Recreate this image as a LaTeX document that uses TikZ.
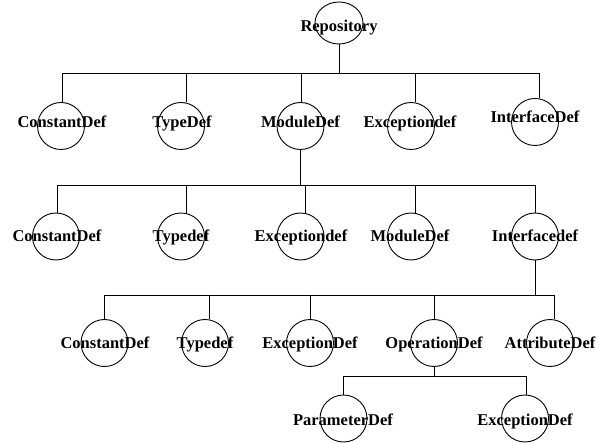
\documentclass[tikz,border=0pt]{standalone}
\usepackage{fontspec}
\setmainfont{Liberation Serif}
\usetikzlibrary{shapes.geometric}
\begin{document}
\begin{tikzpicture}[x=1pt,y=-1pt,
  ring/.style={draw,circle,minimum size=47,inner sep=0,line width=0.9},
  oval/.style={draw,ellipse,minimum width=48,minimum height=42,inner sep=0,line width=0.9},
  lbl/.style={font=\fontsize{16.5}{18}\selectfont\bfseries,inner sep=0,anchor=base},
  conn/.style={line width=0.9}]
\useasboundingbox (0,0) rectangle (599,443);

% level 0
\node[oval] (rep) at (339,23) {};
\node[lbl] (trep) at (339,32) {Repository};

% level 1
\node[ring] (a1) at (61,126) {};
\node[ring] (a2) at (181,126) {};
\node[ring] (a3) at (300.5,126) {};
\node[ring] (a4) at (411,126) {};
\node[ring] (a5) at (535,122) {};
\node[lbl] (ta1) at (62,128) {ConstantDef};
\node[lbl] (ta2) at (182,128) {TypeDef};
\node[lbl] (ta3) at (300.5,128) {ModuleDef};
\node[lbl] (ta4) at (410,128) {Exceptiondef};
\node[lbl] (ta5) at (535,123) {InterfaceDef};

% level 2
\node[ring] (b1) at (56,236.5) {};
\node[ring] (b2) at (181,236.5) {};
\node[ring] (b3) at (300.5,236.5) {};
\node[ring] (b4) at (411,236.5) {};
\node[ring] (b5) at (535,236.5) {};
\node[lbl] (tb1) at (57,242) {ConstantDef};
\node[lbl] (tb2) at (181,242) {Typedef};
\node[lbl] (tb3) at (301,242) {Exceptiondef};
\node[lbl] (tb4) at (410,242) {ModuleDef};
\node[lbl] (tb5) at (535,242) {Interfacedef};

% level 3
\node[ring] (c1) at (104.5,343) {};
\node[ring] (c2) at (205,343) {};
\node[ring] (c3) at (310,343) {};
\node[ring] (c4) at (434,343) {};
\node[ring] (c5) at (550,343) {};
\node[lbl] (tc1) at (105,348) {ConstantDef};
\node[lbl] (tc2) at (205,348) {Typedef};
\node[lbl] (tc3) at (310,348) {ExceptionDef};
\node[lbl] (tc4) at (434,348) {OperationDef};
\node[lbl] (tc5) at (550,348) {AttributeDef};

% level 4
\node[ring] (d1) at (343.5,418.5) {};
\node[ring] (d2) at (525,418.5) {};
\node[lbl] (td1) at (343,425) {ParameterDef};
\node[lbl] (td2) at (525,425) {ExceptionDef};

% bar 0
\coordinate (p01) at (62,73);
\coordinate (p02) at (186,73);
\coordinate (p03) at (301,73);
\coordinate (p04) at (415,73);
\coordinate (p05) at (539,73);
\draw[conn] (p01) -- (p05);
\draw[conn] (rep.south) -- (rep.south |- p01);
\draw[conn] (p01) -- (p01 |- a1.north);
\draw[conn] (p02) -- (p02 |- a2.north);
\draw[conn] (p03) -- (p03 |- a3.north);
\draw[conn] (p04) -- (p04 |- a4.north);
\draw[conn] (p05) -- (p05 |- a5.north);

% bar 1
\coordinate (p11) at (57,185);
\coordinate (p12) at (186,185);
\coordinate (p13) at (305,185);
\coordinate (p14) at (415,185);
\coordinate (p15) at (535,185);
\draw[conn] (p11) -- (p15);
\draw[conn] (a3.south) -- (a3.south |- p11);
\draw[conn] (p11) -- (p11 |- b1.north);
\draw[conn] (p12) -- (p12 |- b2.north);
\draw[conn] (p13) -- (p13 |- b3.north);
\draw[conn] (p14) -- (p14 |- b4.north);
\draw[conn] (p15) -- (p15 |- b5.north);

% bar 2
\coordinate (p21) at (104.5,295);
\coordinate (p22) at (209,295);
\coordinate (p23) at (310,295);
\coordinate (p24) at (434,295);
\coordinate (p25) at (554,295);
\draw[conn] (p21) -- (p25);
\draw[conn] (b5.south) -- (b5.south |- p21);
\draw[conn] (p21) -- (p21 |- c1.north);
\draw[conn] (p22) -- (p22 |- c2.north);
\draw[conn] (p23) -- (p23 |- c3.north);
\draw[conn] (p24) -- (p24 |- c4.north);
\draw[conn] (p25) -- (p25 |- c5.north);

% bar 3
\coordinate (p31) at (343,376);
\coordinate (p32) at (526,376);
\draw[conn] (p31) -- (p32);
\draw[conn] (c4.south) -- (c4.south |- p31);
\draw[conn] (p31) -- (p31 |- d1.north);
\draw[conn] (p32) -- (p32 |- d2.north);
\end{tikzpicture}
\end{document}
